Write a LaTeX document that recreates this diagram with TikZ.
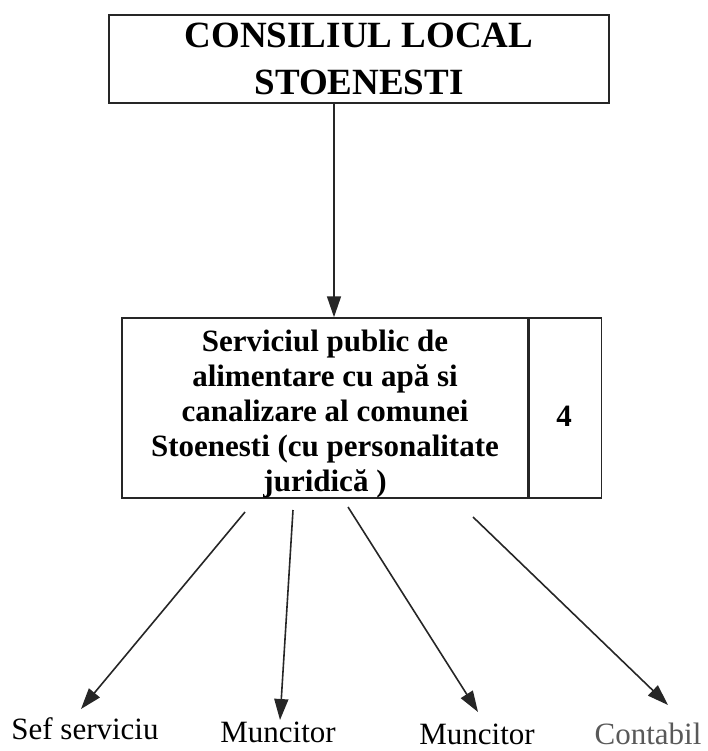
\documentclass[tikz,border=0pt]{standalone}
\usepackage{fontspec}
\setmainfont{Liberation Serif}
\usetikzlibrary{arrows.meta}
\begin{document}
\begin{tikzpicture}[x=1pt,y=-1pt,
  boxline/.style={draw=black!85, line width=1.5pt, inner sep=0pt},
  arr/.style={draw=black!85, line width=1.6pt, -{Triangle[length=21pt,width=14pt]}},
  lab/.style={anchor=base, inner sep=0pt, font=\fontsize{31}{35}\selectfont}]
\useasboundingbox (0,0) rectangle (707,751);
% top box
\node[boxline, minimum width=500pt, minimum height=88pt, align=center,
      font=\fontsize{37}{47}\selectfont\bfseries] (top) at (359,59)
      {CONSILIUL LOCAL\\STOENESTI};
% middle box
\node[boxline, minimum width=406pt, minimum height=180pt] (main) at (325,408) {};
\node[boxline, minimum width=72pt, minimum height=180pt, anchor=west] (num) at (main.east) {};
\node[align=center, inner sep=0pt, font=\fontsize{31}{35}\selectfont\bfseries] (maintext) at (325,414)
  {Serviciul public de\\alimentare cu apă si\\canalizare al comunei\\Stoenesti (cu personalitate\\juridică )};
\node[inner sep=0pt, font=\fontsize{31}{35}\selectfont\bfseries] (four) at (564,416) {4};
% connector top -> middle
\coordinate (c0) at (334,0);
\draw[arr] (top.south -| c0) -- (main.north -| c0);
% labels
\node[lab] (sef) at (85,739) {Sef serviciu};
\node[lab] (m1) at (278,742) {Muncitor};
\node[lab] (m2) at (477,744) {Muncitor};
\node[lab, text=black!65] (cont) at (648,744) {Contabil};
% arrow end points
\coordinate (s1) at (245,512); \coordinate (t1) at (81,709);
\coordinate (s2) at (293,510); \coordinate (t2) at (280,720);
\coordinate (s3) at (348,507); \coordinate (t3) at (478,712);
\coordinate (s4) at (473,517); \coordinate (t4) at (668,705);
\draw[arr] (s1) -- (t1);
\draw[arr] (s2) -- (t2);
\draw[arr] (s3) -- (t3);
\draw[arr] (s4) -- (t4);
\end{tikzpicture}
\end{document}
